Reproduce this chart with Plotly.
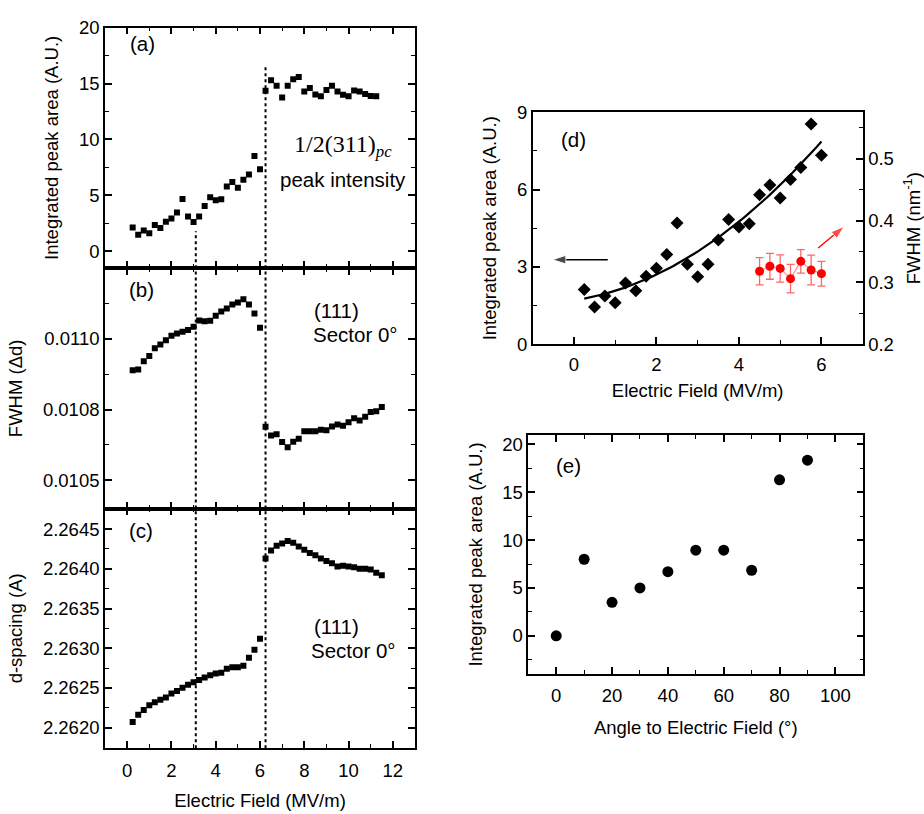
import numpy as np
import plotly.graph_objects as go

# ---------------- data ----------------
field = [0.25, 0.5, 0.75, 1.0, 1.25, 1.5, 1.75, 2.0, 2.25, 2.5, 2.75, 3.0, 3.25, 3.5, 3.75,
         4.0, 4.25, 4.5, 4.75, 5.0, 5.25, 5.5, 5.75, 6.0, 6.25, 6.5, 6.75, 7.0, 7.25, 7.5,
         7.75, 8.0, 8.25, 8.5, 8.75, 9.0, 9.25, 9.5, 9.75, 10.0, 10.25, 10.5, 10.75, 11.0,
         11.25, 11.5]

area_a = [2.14, 1.48, 1.86, 1.62, 2.35, 2.10, 2.64, 2.93, 3.47, 4.68, 3.12, 2.63, 3.12, 4.05,
          4.84, 4.57, 4.67, 5.80, 6.19, 5.68, 6.40, 6.88, 8.53, 7.33, 14.35, 15.30, 14.81,
          13.74, 14.81, 15.39, 15.59, 14.29, 14.61, 14.03, 13.86, 14.43, 14.81, 14.29, 14.00,
          13.86, 14.38, 14.29, 14.06, 13.89, 13.86]

fwhm_b = [0.010889, 0.010892, 0.010921, 0.010939, 0.010967, 0.010980, 0.010995, 0.011011,
          0.011019, 0.011025, 0.011031, 0.011043, 0.011065, 0.011062, 0.011064, 0.011082,
          0.011097, 0.011107, 0.011122, 0.011129, 0.011140, 0.011122, 0.011090, 0.011039,
          0.010689, 0.010658, 0.010663, 0.010635, 0.010617, 0.010636, 0.010647, 0.010673,
          0.010673, 0.010673, 0.010679, 0.010677, 0.010690, 0.010697, 0.010693, 0.010705,
          0.010719, 0.010711, 0.010725, 0.010741, 0.010744, 0.010759]

dspacing_c = [2.26207, 2.26216, 2.26222, 2.26228, 2.26232, 2.26235, 2.26238, 2.26243,
              2.26246, 2.26250, 2.26254, 2.26257, 2.26260, 2.26263, 2.26266, 2.26268,
              2.26269, 2.26274, 2.26276, 2.26276, 2.26278, 2.26288, 2.26298, 2.26312,
              2.26413, 2.26423, 2.26429, 2.26432, 2.26435, 2.26433, 2.26428, 2.26424,
              2.26420, 2.26417, 2.26413, 2.26410, 2.26407, 2.26403, 2.26404, 2.26403,
              2.26402, 2.26400, 2.26400, 2.26399, 2.26395, 2.26392]

field_d = [0.25, 0.5, 0.75, 1.0, 1.25, 1.5, 1.75, 2.0, 2.25, 2.5, 2.75, 3.0, 3.25, 3.5, 3.75,
           4.0, 4.25, 4.5, 4.75, 5.0, 5.25, 5.5, 5.75, 6.0]
area_d = [2.12, 1.44, 1.87, 1.61, 2.37, 2.07, 2.64, 2.95, 3.48, 4.70, 3.10, 2.62, 3.10, 4.04,
          4.84, 4.55, 4.67, 5.80, 6.18, 5.67, 6.39, 6.86, 8.55, 7.33]

field_fw = [4.5, 4.75, 5.0, 5.25, 5.5, 5.75, 6.0]
fwhm_d = [0.318, 0.326, 0.3225, 0.306, 0.334, 0.320, 0.314]
fwhm_err = [0.022, 0.021, 0.022, 0.023, 0.019, 0.024, 0.020]

angle_e = [0, 10, 20, 30, 40, 50, 60, 70, 80, 90]
area_e = [0.0, 8.0, 3.5, 5.0, 6.7, 8.95, 8.95, 6.85, 16.3, 18.35]

# guide arrows in panel (d): (tail, head) in data units of the left axis
arrow_left = ([0.82, -0.52], [3.28, 3.28])
arrow_right = ([5.92, 6.55], [3.73, 4.57])

FONT = "Liberation Sans, Arial, sans-serif"
SERIF = "Liberation Serif, Times New Roman, serif"
TICK = 18.5
TITLE = 18.5
ANN = 20.5

# ---------------- figure ----------------
fig = go.Figure()

sq = dict(symbol="square", size=6, color="black")
fig.add_trace(go.Scatter(x=field[:len(area_a)], y=area_a, mode="markers", marker=sq,
                         xaxis="x", yaxis="y", showlegend=False))
fig.add_trace(go.Scatter(x=field, y=fwhm_b, mode="markers", marker=sq,
                         xaxis="x2", yaxis="y2", showlegend=False))
fig.add_trace(go.Scatter(x=field, y=dspacing_c, mode="markers", marker=sq,
                         xaxis="x3", yaxis="y3", showlegend=False))

# (d)
coef = np.polyfit(field_d, area_d, 2)
xf = np.linspace(min(field_d), max(field_d), 100)
fig.add_trace(go.Scatter(x=xf, y=np.polyval(coef, xf), mode="lines",
                         line=dict(color="black", width=2.2),
                         xaxis="x4", yaxis="y4", showlegend=False))
fig.add_trace(go.Scatter(x=field_d, y=area_d, mode="markers",
                         marker=dict(symbol="diamond", size=10, color="black"),
                         xaxis="x4", yaxis="y4", showlegend=False))
fig.add_trace(go.Scatter(x=field_fw, y=fwhm_d, mode="lines+markers",
                         line=dict(color="rgba(255,0,0,0.45)", width=1.2),
                         marker=dict(symbol="circle", size=9, color="red"),
                         error_y=dict(type="data", array=fwhm_err, color="rgba(255,0,0,0.6)",
                                      thickness=1.3, width=4),
                         xaxis="x4", yaxis="y5", showlegend=False))
for (axs, ays), col in ((arrow_left, "black"), (arrow_right, "red")):
    fig.add_trace(go.Scatter(x=axs, y=ays, mode="lines+markers",
                             line=dict(color=col, width=1.4),
                             marker=dict(symbol="arrow", size=[0, 14], color=col,
                                         angleref="previous", standoff=0),
                             xaxis="x4", yaxis="y4", showlegend=False, hoverinfo="skip"))

# (e)
fig.add_trace(go.Scatter(x=angle_e, y=area_e, mode="markers",
                         marker=dict(symbol="circle", size=11, color="black"),
                         xaxis="x5", yaxis="y6", showlegend=False))


def ax(**kw):
    d = dict(showline=True, linecolor="black", linewidth=1.6, mirror="allticks",
             ticks="inside", ticklen=7, tickwidth=1.5, tickcolor="black",
             minor=dict(ticks="inside", ticklen=4, tickwidth=1.2, tickcolor="black"),
             showgrid=False, zeroline=False,
             tickfont=dict(family=FONT, size=TICK, color="black"),
             title_font=dict(family=FONT, size=TITLE, color="black"))
    for k, v in kw.items():
        if k == "minor":
            d["minor"].update(v)
        else:
            d[k] = v
    return d


W, H = 924, 814
def px_x(p):
    return p / W
def px_y(p):
    return 1 - p / H

LX = [px_x(105), px_x(415)]
xl = dict(range=[-1, 13], dtick=2, minor=dict(dtick=1))

layout = dict(
    width=W, height=H, margin=dict(l=0, r=0, t=0, b=0),
    plot_bgcolor="white", paper_bgcolor="white",
    font=dict(family=FONT, color="black"),
    xaxis=ax(domain=LX, anchor="y", showticklabels=False, **xl),
    yaxis=ax(domain=[px_y(264), px_y(17)], anchor="x", range=[-1.5, 20], dtick=5,
             minor=dict(dtick=2.5), title=dict(text="Integrated peak area (A.U.)")),
    xaxis2=ax(domain=LX, anchor="y2", showticklabels=False, **xl),
    yaxis2=ax(domain=[px_y(510.7), px_y(264)], anchor="x2", range=[0.0104, 0.01125],
              tickvals=[0.0105, 0.01075, 0.011], ticktext=["0.0105", "0.0108", "0.0110"],
              minor=dict(tickvals=[0.010625, 0.010875, 0.011125]),
              title=dict(text="FWHM (Δd)")),
    xaxis3=ax(domain=LX, anchor="y3", ticklabelstandoff=5,
              title=dict(text="Electric Field (MV/m)", standoff=14), **xl),
    yaxis3=ax(domain=[px_y(756.7), px_y(510.7)], anchor="x3", range=[2.26174, 2.26476],
              dtick=0.0005, tickformat=".4f", minor=dict(dtick=0.00025),
              title=dict(text="d-spacing (A)")),
    xaxis4=ax(domain=[px_x(532.7), px_x(862.7)], anchor="y4", range=[-1, 7], dtick=2,
              mirror=True, minor=dict(dtick=1), ticklabelstandoff=3,
              title=dict(text="Electric Field (MV/m)", standoff=10)),
    yaxis4=ax(domain=[px_y(342), px_y(104)], anchor="x4", range=[0, 9], dtick=3,
              mirror=False, minor=dict(dtick=1.5),
              title=dict(text="Integrated peak area (A.U.)")),
    yaxis5=ax(overlaying="y4", anchor="x4", side="right", range=[0.2, 0.575], dtick=0.1,
              tickformat=".1f", mirror=False, minor=dict(dtick=0.05),
              title=dict(text="FWHM (nm<sup>-1</sup>)")),
    xaxis5=ax(domain=[px_x(528.3), px_x(863.3)], anchor="y6", range=[-10, 110], dtick=20,
              minor=dict(dtick=10), ticklabelstandoff=4,
              title=dict(text="Angle to Electric Field (°)", standoff=16)),
    yaxis6=ax(domain=[px_y(680.7), px_y(435)], anchor="x5", range=[-4, 21], dtick=5,
              minor=dict(dtick=2.5), title=dict(text="Integrated peak area (A.U.)")),
)
fig.update_layout(**layout)

# dotted guide lines
dot = dict(color="black", width=2, dash="dot")
shapes = [
    dict(type="line", xref="x", yref="y", x0=3.1, x1=3.1, y0=-1.5, y1=1.8, line=dot),
    dict(type="line", xref="x", yref="y", x0=6.25, x1=6.25, y0=-1.5, y1=16.5, line=dot),
]
for xa, ya in (("x2", "y2 domain"), ("x3", "y3 domain")):
    for xv in (3.1, 6.25):
        shapes.append(dict(type="line", xref=xa, yref=ya, x0=xv, x1=xv, y0=0, y1=1, line=dot))
fig.update_layout(shapes=shapes)

def txt(x, y, s, xr, yr, size=ANN, family=FONT, xanchor="center"):
    return dict(x=x, y=y, xref=xr, yref=yr, text=s, showarrow=False,
                font=dict(family=family, size=size, color="black"), xanchor=xanchor)

anns = [
    txt(0.7, 18.6, "(a)", "x", "y"),
    txt(9.75, 9.4, "1/2(311)<sub><i>pc</i></sub>", "x", "y", size=24, family=SERIF),
    txt(9.75, 6.45, "peak intensity", "x", "y"),
    txt(0.63, 0.011175, "(b)", "x2", "y2"),
    txt(9.45, 0.0111, "(111)", "x2", "y2"),
    txt(10.3, 0.011017, "Sector 0°", "x2", "y2"),
    txt(0.63, 2.26448, "(c)", "x3", "y3"),
    txt(9.45, 2.26327, "(111)", "x3", "y3"),
    txt(10.2, 2.26297, "Sector 0°", "x3", "y3"),
    txt(0.0, 7.95, "(d)", "x4", "y4"),
    txt(4.3, 17.8, "(e)", "x5", "y6"),
]
fig.update_layout(annotations=anns)

fig.write_html("out.html")
